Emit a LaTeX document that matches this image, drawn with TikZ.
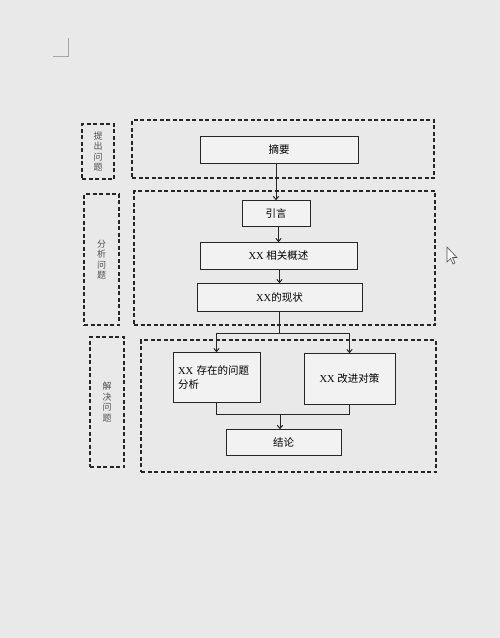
\documentclass[tikz,border=0pt]{standalone}
\usepackage{fontspec}
\setmainfont{Liberation Serif}
\newfontfamily\cjk{Noto Sans CJK SC}
\usetikzlibrary{arrows.meta}
\definecolor{paper}{HTML}{E9E9E9}
\definecolor{ink}{HTML}{262626}
\tikzset{
  every node/.style={inner sep=0pt,outer sep=0pt},
  solidbox/.style={draw=ink,line width=0.9pt,fill=white!40!paper,font=\fontsize{10.5}{13}\selectfont},
  dashbox/.style={draw=ink,line width=1.6pt,dash pattern=on 4pt off 2.5pt},
  sidelabel/.style={dashbox,align=center,font=\cjk\fontsize{9}{10.5}\selectfont,text=ink!80},
  conn/.style={draw=ink,line width=1pt},
  arr/.style={conn,-{To[length=4pt,width=6pt]}},
}
\begin{document}
\begin{tikzpicture}[x=1pt,y=-1pt]
\fill[paper] (0,0) rectangle (500,638);
\useasboundingbox (0,0) rectangle (500,638);
% page corner mark
\draw[gray!70,line width=0.8pt] (53,56) -- (68,56) -- (68,38);
% side labels
\node[sidelabel,minimum width=32pt,minimum height=55pt] (l1) at (98,151.5) {提\\出\\问\\题};
\node[sidelabel,minimum width=35pt,minimum height=131pt] (l2) at (101.5,259.5) {分\\析\\问\\题};
\node[sidelabel,minimum width=34pt,minimum height=130pt] (l3) at (107,402) {解\\决\\问\\题};
% dashed groups
\node[dashbox,minimum width=302pt,minimum height=58pt] (g1) at (283,149) {};
\node[dashbox,minimum width=301pt,minimum height=134pt] (g2) at (284.5,258) {};
\node[dashbox,minimum width=295pt,minimum height=132pt] (g3) at (288.5,406) {};
% boxes
\node[solidbox,minimum width=158pt,minimum height=27pt] (zy) at (279,149.5) {\cjk 摘要};
\node[solidbox,minimum width=68pt,minimum height=26pt] (yy) at (276,213) {\cjk 引言};
\node[solidbox,minimum width=157pt,minimum height=27pt] (gs) at (278.5,255.5) {XX {\cjk 相关概述}};
\node[solidbox,minimum width=165pt,minimum height=28pt] (xz) at (279.5,297) {XX{\cjk 的现状}};
\node[solidbox,minimum width=87pt,minimum height=50pt,align=left,text width=77pt] (fx) at (216.5,377) {XX {\cjk 存在的问题}\\[1pt]{\cjk 分析}};
\node[solidbox,minimum width=91pt,minimum height=51pt] (dc) at (349.5,378.5) {XX {\cjk 改进对策}};
\node[solidbox,minimum width=115pt,minimum height=26pt] (jl) at (283.5,442) {\cjk 结论};
% connectors
\draw[arr] (yy.north |- zy.south) -- (yy.north);
\draw[arr] (gs.north |- yy.south) -- (gs.north);
\draw[arr] (xz.north |- gs.south) -- (xz.north);
\coordinate (split) at (279.5,333);
\coordinate (merge) at (280,414);
\draw[conn] (xz.south) -- (split);
\draw[arr] (split) -| (fx.north);
\draw[arr] (split) -| (dc.north);
\draw[conn] (fx.south) |- (merge);
\draw[conn] (merge) -| (dc.south);
\draw[arr] (merge) -- (merge |- jl.north);
% mouse pointer
\draw[ink!80,line width=0.6pt,fill=white!70!paper] (447,247) -- (447,262) -- (450.5,258.5) -- (453,264) -- (455,263) -- (452.5,257.5) -- (457,257.5) -- cycle;
\end{tikzpicture}
\end{document}
